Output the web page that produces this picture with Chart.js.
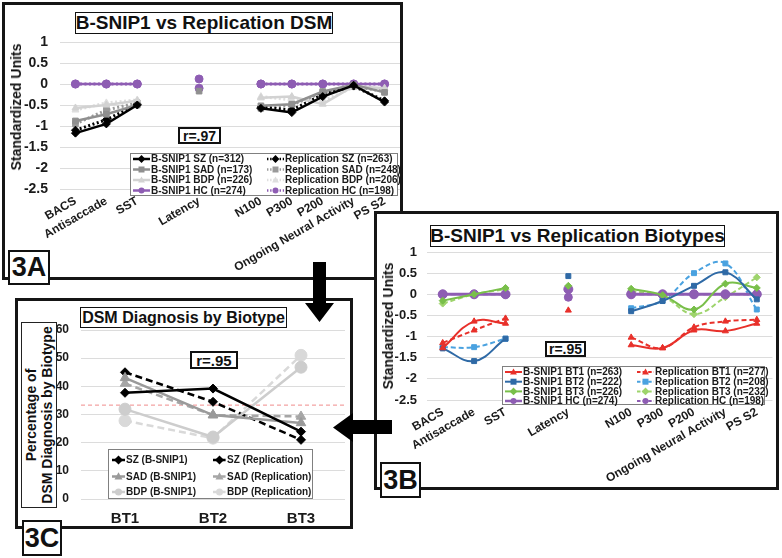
<!DOCTYPE html>
<html lang="en">
<head>
<meta charset="UTF-8">
<title>B-SNIP1 vs Replication</title>
<style>
  body { margin: 0; background: #fff; font-family: 'Liberation Sans', Arial, sans-serif; color: #111; }
  #page { position: relative; width: 782px; height: 558px; overflow: hidden; background: #fff; }
  .frame { position: absolute; border: 3px solid #151515; background: #fff; box-sizing: border-box; }
  canvas { position: absolute; }
  .box { position: absolute; box-sizing: border-box; background: #fff; font-weight: bold;
         display: flex; align-items: center; justify-content: center; white-space: nowrap; }
  .title { border: 1.5px solid #111; font-size: 19px; }
  .rbox { border: 2px solid #111; font-size: 14px; }
  .tag { border: 2px solid #111; font-family: 'Liberation Sans Narrow', 'Arial Narrow', 'Liberation Sans', sans-serif; font-size: 27px; }
  .ytitle { position: absolute; font-weight: bold; font-size: 14px; white-space: nowrap; transform: translate(-50%, -50%) rotate(-90deg); }
  #ytitleC { position: absolute; box-sizing: border-box; border: 1.5px solid #222; background: #fff; width: 186px; height: 36px;
             left: -54px; top: 397px; transform: rotate(-90deg); font-weight: bold; font-size: 14px; line-height: 16px; text-align: center; padding-top: 1px; }
</style>
</head>
<body>
<div id="page">
  <!-- panel 3A -->
  <div class="frame" style="left:2px;top:2px;width:401px;height:278px;"></div>
  <canvas id="chartA" width="410" height="280" style="left:0;top:0;"></canvas>
  <div class="box title" style="left:75px;top:12px;width:258px;height:22px;">B-SNIP1 vs Replication DSM</div>
  <div class="box rbox" style="left:178px;top:127px;width:43px;height:17px;">r=.97</div>
  <div class="ytitle" style="left:16px;top:107px;">Standardized Units</div>

  <!-- panel 3B -->
  <div class="frame" style="left:374px;top:211px;width:405px;height:279px;"></div>
  <canvas id="chartB" width="403" height="277" style="left:375px;top:212px;"></canvas>
  <div class="box title" style="left:430px;top:225px;width:295px;height:22px;">B-SNIP1 vs Replication Biotypes</div>
  <div class="box rbox" style="left:545px;top:341px;width:41px;height:16px;">r=.95</div>
  <div class="ytitle" style="left:388px;top:326px;">Standardized Units</div>

  <!-- panel 3C -->
  <div class="frame" style="left:15px;top:298px;width:338px;height:231px;"></div>
  <canvas id="chartC" width="337" height="229" style="left:15px;top:299px;"></canvas>
  <div class="box title" style="left:80px;top:307px;width:207px;height:21px;font-size:16px;">DSM Diagnosis by Biotype</div>
  <div class="box rbox" style="left:190px;top:351px;width:48px;height:18px;font-size:15px;">r=.95</div>
  <div id="ytitleC">Percentage of<br>DSM Diagnosis by Biotype</div>

  <!-- panel tags -->
  <div class="box tag" style="left:8px;top:250px;width:42px;height:35px;">3A</div>
  <div class="box tag" style="left:380px;top:462px;width:41px;height:36px;">3B</div>
  <div class="box tag" style="left:22px;top:520px;width:40px;height:36px;">3C</div>

  <svg width="782" height="558" style="position:absolute;left:0;top:0;pointer-events:none;">
    <polygon points="313,262 326,262 326,303 334,303 319.5,322 305,303 313,303" fill="#000"/>
    <polygon points="392,420 392,434 353,434 353,442 333,427.5 353,413 353,420" fill="#000"/>
  </svg>
</div>

<script src="https://cdn.jsdelivr.net/npm/chart.js"></script>
<script>
  // measures on the x axis of 3A and 3B (blank slots leave the gaps around Latency)
  const measures = ['BACS', 'Antisaccade', 'SST', '', 'Latency', '', 'N100', 'P300', 'P200', 'Ongoing Neural Activity', 'PS S2'];

  // 3A - DSM groups, standardized units
  const dsmBsnipSZ  = [-1.17, -0.95, -0.50, null, null, null, -0.58, -0.68, -0.30, -0.03, -0.43];
  const dsmBsnipSAD = [-0.88, -0.72, -0.50, null, -0.17, null, -0.52, -0.48, -0.18, -0.02, -0.20];
  const dsmBsnipBDP = [-0.57, -0.50, -0.40, null, null, null, -0.33, -0.30, -0.48, -0.05, -0.10];
  const dsmBsnipHC  = [0, 0, 0, null, 0.12, null, 0, 0, 0, 0, 0];
  const dsmRepSZ    = [-1.10, -0.85, -0.48, null, null, null, -0.55, -0.62, -0.25, -0.05, -0.40];
  const dsmRepSAD   = [-0.95, -0.62, -0.45, null, null, null, -0.58, -0.50, -0.20, -0.05, -0.18];
  const dsmRepBDP   = [-0.62, -0.45, -0.38, null, null, null, -0.30, -0.38, -0.40, -0.08, -0.12];
  const dsmRepHC    = [0, 0, 0, null, -0.10, null, 0, 0, 0, 0, 0];

  // 3B - biotypes, standardized units
  const btBsnip1 = [-1.27, -0.64, -0.69, null, -0.38, null, -1.20, -1.27, -0.85, -0.87, -0.69];
  const btBsnip2 = [-1.28, -1.58, -1.05, null, 0.43, null, -0.40, -0.16, 0.20, 0.52, -0.12];
  const btBsnip3 = [-0.15, 0.00, 0.15, null, 0.20, null, 0.13, -0.02, -0.36, 0.25, 0.15];
  const btBsnipHC = [0, 0, 0, null, 0.12, null, 0, 0, 0, 0, 0];
  const btRep1 = [-1.15, -0.85, -0.57, null, null, null, -1.02, -1.27, -0.78, -0.64, -0.60];
  const btRep2 = [-1.25, -1.25, -1.05, null, null, null, -0.33, -0.15, 0.50, 0.73, -0.36];
  const btRep3 = [-0.22, 0.00, 0.12, null, null, null, 0.08, -0.05, -0.47, -0.07, 0.40];
  const btRepHC = [0, 0, 0, null, -0.07, null, 0, 0, 0, 0, 0];

  // 3C - percentage of DSM diagnosis in each biotype
  const biotypes = ['BT1', 'BT2', 'BT3'];
  const pctBsnipSZ  = [37.7, 39.2, 23.9];
  const pctBsnipSAD = [43.0, 29.8, 27.0];
  const pctBsnipBDP = [31.9, 22.0, 46.8];
  const pctRepSZ    = [45.0, 34.5, 21.0];
  const pctRepSAD   = [41.0, 29.8, 29.3];
  const pctRepBDP   = [27.8, 21.6, 51.0];
  const chanceLevel = 33.33;

  Chart.defaults.font.family = "'Liberation Sans', Arial, sans-serif";
  Chart.defaults.color = '#1a1a1a';

  const purple = '#8e5db3';

  function series(label, data, color, style, opts) {
    return Object.assign({
      label: label,
      data: data,
      borderColor: color,
      backgroundColor: color,
      pointStyle: style,
      pointRadius: 4,
      pointBorderWidth: 1,
      borderWidth: 2.5,
      tension: 0,
      fill: false
    }, opts || {});
  }

  function drawMark(ctx, style, x, y, r) {
    ctx.beginPath();
    if (style === 'circle') {
      ctx.arc(x, y, r, 0, Math.PI * 2);
    } else if (style === 'rect') {
      ctx.rect(x - r, y - r, r * 2, r * 2);
    } else if (style === 'rectRot') {
      ctx.moveTo(x, y - r * 1.3); ctx.lineTo(x + r * 1.3, y);
      ctx.lineTo(x, y + r * 1.3); ctx.lineTo(x - r * 1.3, y); ctx.closePath();
    } else {
      ctx.moveTo(x, y - r * 1.2); ctx.lineTo(x + r * 1.15, y + r * 0.85);
      ctx.lineTo(x - r * 1.15, y + r * 0.85); ctx.closePath();
    }
    ctx.fill();
  }

  // boxed two-column legend drawn inside the plot, like the Excel original
  function boxLegend(cfg) {
    return {
      id: 'boxLegend',
      afterDraw(chart) {
        const ctx = chart.ctx;
        ctx.save();
        ctx.fillStyle = '#fff';
        ctx.fillRect(cfg.x, cfg.y, cfg.w, cfg.h);
        ctx.strokeStyle = '#808080';
        ctx.lineWidth = 1;
        ctx.strokeRect(cfg.x + 0.5, cfg.y + 0.5, cfg.w - 1, cfg.h - 1);
        ctx.font = cfg.font;
        ctx.textBaseline = 'middle';
        chart.data.datasets.forEach((ds, i) => {
          const col = Math.floor(i / cfg.rows.length);
          const y = cfg.rows[i % cfg.rows.length];
          const x = cfg.cols[col];
          ctx.strokeStyle = ds.borderColor;
          ctx.lineWidth = Math.min(ds.borderWidth, 2.5);
          ctx.setLineDash(ds.borderDash ? ds.borderDash.map(v => v * 0.7) : []);
          ctx.beginPath();
          ctx.moveTo(x, y);
          ctx.lineTo(x + cfg.sample, y);
          ctx.stroke();
          ctx.setLineDash([]);
          ctx.fillStyle = ds.borderColor;
          drawMark(ctx, ds.pointStyle, x + cfg.sample / 2, y, cfg.mark);
          ctx.fillStyle = '#1a1a1a';
          ctx.fillText(ds.label, x + cfg.sample + 1, y + 0.5);
        });
        ctx.restore();
      }
    };
  }

  const chanceLine = {
    id: 'chanceLine',
    beforeDatasetsDraw(chart) {
      const ctx = chart.ctx;
      const area = chart.chartArea;
      const y = chart.scales.y.getPixelForValue(chanceLevel);
      ctx.save();
      ctx.strokeStyle = '#f08c8c';
      ctx.lineWidth = 1;
      ctx.setLineDash([4, 3]);
      ctx.beginPath();
      ctx.moveTo(area.left, y);
      ctx.lineTo(area.right, y);
      ctx.stroke();
      ctx.restore();
    }
  };

  function baseOptions(o) {
    return {
      responsive: false,
      animation: false,
      devicePixelRatio: 1,
      layout: { padding: { top: o.top, right: o.right, left: 0, bottom: 0 } },
      plugins: { legend: { display: false }, tooltip: { enabled: false } },
      scales: {
        x: {
          offset: true,
          grid: { display: false, drawTicks: false },
          border: { display: false },
          ticks: {
            autoSkip: false,
            maxRotation: o.rot, minRotation: o.rot,
            padding: o.xPad,
            color: '#1a1a1a',
            font: { size: o.xFont, weight: 'bold' }
          },
          afterFit(s) { s.height = o.xHeight; }
        },
        y: {
          min: o.min, max: o.max,
          grid: { color: '#dcdcdc', drawTicks: false },
          border: { display: false },
          ticks: {
            stepSize: o.step,
            padding: o.yPad,
            color: '#1a1a1a',
            font: { size: o.yFont, weight: 'bold' },
            callback: v => String(Number(v.toFixed(1)))
          },
          afterFit(s) { s.width = o.yWidth; }
        }
      }
    };
  }

  // ---- 3A ----
  const dotted = { borderDash: [2, 2.5], borderWidth: 3, borderCapStyle: 'butt' };
  new Chart(document.getElementById('chartA'), {
    type: 'line',
    data: {
      labels: measures,
      datasets: [
        series('B-SNIP1 SZ (n=312)', dsmBsnipSZ, '#000000', 'rectRot'),
        series('B-SNIP1 SAD (n=173)', dsmBsnipSAD, '#8f8f8f', 'rect'),
        series('B-SNIP1 BDP (n=226)', dsmBsnipBDP, '#d2d2d2', 'triangle'),
        series('B-SNIP1 HC (n=274)', dsmBsnipHC, purple, 'circle'),
        series('Replication SZ (n=263)', dsmRepSZ, '#000000', 'rectRot', dotted),
        series('Replication SAD (n=248)', dsmRepSAD, '#9a9a9a', 'rect', dotted),
        series('Replication BDP (n=206)', dsmRepBDP, '#dedede', 'triangle', dotted),
        series('Replication HC (n=198)', dsmRepHC, purple, 'circle', dotted)
      ]
    },
    options: baseOptions({ top: 42, right: 10, rot: 30, xPad: 5, xFont: 12, xHeight: 91,
                           min: -2.5, max: 1, step: 0.5, yPad: 12, yFont: 14, yWidth: 60 }),
    plugins: [boxLegend({ x: 130, y: 153, w: 268, h: 43, rows: [159, 169.5, 180, 190.5], cols: [133, 267],
                          sample: 17, mark: 3, font: "bold 10px 'Liberation Sans', Arial, sans-serif" })]
  });

  // ---- 3B ----
  const dashed = { borderDash: [5, 3], borderWidth: 2 };
  const smooth = { tension: 0.4, borderWidth: 2, pointRadius: 3.5 };
  new Chart(document.getElementById('chartB'), {
    type: 'line',
    data: {
      labels: measures,
      datasets: [
        series('B-SNIP1 BT1 (n=263)', btBsnip1, '#e8302a', 'triangle', smooth),
        series('B-SNIP1 BT2 (n=222)', btBsnip2, '#2f6aa6', 'rect', smooth),
        series('B-SNIP1 BT3 (n=226)', btBsnip3, '#79bf4a', 'rectRot', smooth),
        series('B-SNIP1 HC (n=274)', btBsnipHC, purple, 'circle', Object.assign({}, smooth, { borderWidth: 3, pointRadius: 4.5 })),
        series('Replication BT1 (n=277)', btRep1, '#e8302a', 'triangle', Object.assign({}, smooth, dashed)),
        series('Replication BT2 (n=208)', btRep2, '#4aa2e0', 'rect', Object.assign({}, smooth, dashed)),
        series('Replication BT3 (n=232)', btRep3, '#9ed46c', 'rectRot', Object.assign({}, smooth, dashed)),
        series('Replication HC (n=198)', btRepHC, purple, 'circle', Object.assign({}, smooth, dashed, { pointRadius: 4 }))
      ]
    },
    options: baseOptions({ top: 40, right: 4, rot: 30, xPad: 5, xFont: 12, xHeight: 89,
                           min: -2.5, max: 1, step: 0.5, yPad: 10, yFont: 13, yWidth: 52 }),
    plugins: [boxLegend({ x: 127, y: 154, w: 263, h: 39, rows: [160, 169.7, 179.4, 189], cols: [130, 262],
                          sample: 17, mark: 3, font: "bold 10px 'Liberation Sans', Arial, sans-serif" })]
  });

  // ---- 3C ----
  const dashC = { borderDash: [7, 4] };
  new Chart(document.getElementById('chartC'), {
    type: 'line',
    data: {
      labels: biotypes,
      datasets: [
        series('SZ (B-SNIP1)', pctBsnipSZ, '#000000', 'rectRot', { pointRadius: 4.5 }),
        series('SAD (B-SNIP1)', pctBsnipSAD, '#9a9a9a', 'triangle', { pointRadius: 5.5 }),
        series('BDP (B-SNIP1)', pctBsnipBDP, '#cdcdcd', 'circle', { pointRadius: 6 }),
        series('SZ (Replication)', pctRepSZ, '#000000', 'rectRot', Object.assign({ pointRadius: 4.5 }, dashC)),
        series('SAD (Replication)', pctRepSAD, '#a6a6a6', 'triangle', Object.assign({ pointRadius: 5.5 }, dashC)),
        series('BDP (Replication)', pctRepBDP, '#d9d9d9', 'circle', Object.assign({ pointRadius: 6 }, dashC))
      ]
    },
    options: baseOptions({ top: 31, right: 6, rot: 0, xPad: 11, xFont: 15, xHeight: 29,
                           min: 0, max: 60, step: 10, yPad: 12, yFont: 12, yWidth: 66 }),
    plugins: [chanceLine,
              boxLegend({ x: 93, y: 150, w: 205, h: 50, rows: [161, 177.5, 193], cols: [97, 198],
                          sample: 13, mark: 3.5, font: "bold 10px 'Liberation Sans', Arial, sans-serif" })]
  });
</script>
</body>
</html>
